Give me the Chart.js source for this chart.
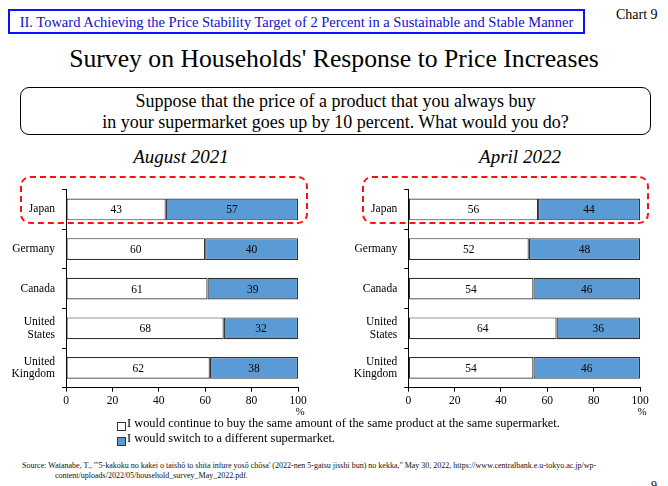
<!DOCTYPE html>
<html><head><meta charset="utf-8">
<script src="https://cdn.jsdelivr.net/npm/chart.js@4"></script>
<style>
html,body{margin:0;padding:0;background:#fff;}
body{width:668px;height:486px;position:relative;overflow:hidden;font-family:"Liberation Serif","Times New Roman",serif;color:#000;}
.abs{position:absolute;white-space:nowrap;}
#hdr{left:8px;top:9px;width:577px;height:25px;border:2px solid #1010ff;box-sizing:border-box;color:#1010cc;font-size:14.5px;line-height:22px;text-align:center;}
#chartno{left:616px;top:7px;font-size:14px;}
#title{left:0;width:668px;top:44px;text-align:center;font-size:25.7px;}
#qbox{left:20px;top:87px;width:631px;height:48px;border:1.5px solid #000;border-radius:9px;box-sizing:border-box;text-align:center;font-size:18px;line-height:21px;padding-top:3px;}
.ptitle{font-style:italic;font-size:19px;top:146px;text-align:center;width:330px;}
.dash{border:2px dashed #ff1010;border-radius:10px;box-sizing:border-box;}
canvas{position:absolute;}
.leg{font-size:12.4px;left:127px;}
.sq{position:absolute;width:7px;height:7px;border:1px solid #333;}
#src{left:22px;top:461px;font-size:8px;line-height:10px;color:#111;}
</style></head><body>
<div id="hdr" class="abs">II. Toward Achieving the Price Stability Target of 2 Percent in a Sustainable and Stable Manner</div>
<div id="chartno" class="abs">Chart 9</div>
<div id="title" class="abs">Survey on Households' Response to Price Increases</div>
<div id="qbox" class="abs">Suppose that the price of a product that you always buy<br>in your supermarket goes up by 10 percent. What would you do?</div>
<div class="abs ptitle" style="left:16px;">August 2021</div>
<div class="abs ptitle" style="left:355px;">April 2022</div>
<canvas id="c1" width="330" height="250" style="left:0;top:170px;"></canvas>
<canvas id="c2" width="330" height="250" style="left:340px;top:170px;"></canvas>
<div class="abs dash" style="left:20px;top:176px;width:288px;height:48px;"></div>
<div class="abs dash" style="left:362px;top:176px;width:287px;height:48px;"></div>
<div class="sq" style="left:117px;top:422px;background:#fff;"></div>
<div class="abs leg" style="top:416px;">I would continue to buy the same amount of the same product at the same supermarket.</div>
<div class="sq" style="left:117px;top:437px;background:#5b9bd5;"></div>
<div class="abs leg" style="top:431px;">I would switch to a different supermarket.</div>
<div id="src" class="abs">Source: Watanabe, T., "'5-kakoku no kakei o taishō to shita infure yosō chōsa' (2022-nen 5-gatsu jisshi bun) no kekka," May 30, 2022, https://www.centralbank.e.u-tokyo.ac.jp/wp-<br><span style="padding-left:33px">content/uploads/2022/05/household_survey_May_2022.pdf.</span></div>
<div class="abs" style="left:651px;top:478px;font-size:12px;">9</div>
<script>
const countries = [["Japan"],["Germany"],["Canada"],["United","States"],["United","Kingdom"]];
const aug2021Continue = [43, 60, 61, 68, 62];
const aug2021Switch   = [57, 40, 39, 32, 38];
const apr2022Continue = [56, 52, 54, 64, 54];
const apr2022Switch   = [44, 48, 46, 36, 46];
const xTicks = [0, 20, 40, 60, 80, 100];
const seriesNames = ["I would continue to buy the same amount of the same product at the same supermarket.","I would switch to a different supermarket."];

const FONT = "'Liberation Serif','Times New Roman',serif";
const valueLabels = {
  id:'valueLabels',
  afterDatasetsDraw(chart){
    const ctx = chart.ctx;
    ctx.save();
    ctx.font = "11.5px " + FONT;
    ctx.fillStyle = "#000";
    ctx.textAlign = "center";
    ctx.textBaseline = "middle";
    chart.data.datasets.forEach((ds, di) => {
      chart.getDatasetMeta(di).data.forEach((el, i) => {
        const cx = (el.base + el.x) / 2;
        ctx.fillText(String(ds.data[i]), cx, el.y + 1);
      });
    });
    ctx.restore();
  }
};
const pctLabel = {
  id:'pctLabel',
  afterDraw(chart){
    const ctx = chart.ctx;
    ctx.save();
    ctx.font = "11px " + FONT;
    ctx.fillStyle = "#000";
    ctx.textAlign = "center";
    ctx.textBaseline = "middle";
    const xs = chart.scales.x;
    ctx.fillText("%", xs.getPixelForValue(100) + 2, 242);
    ctx.restore();
  }
};

function makeChart(id, cont, sw, leftW, rightPad){
  new Chart(document.getElementById(id), {
    type:'bar',
    data:{
      labels: countries,
      datasets:[
        {label: seriesNames[0], data: cont, backgroundColor:'#ffffff', borderColor:'#333333', borderWidth:1.2, borderSkipped:false},
        {label: seriesNames[1], data: sw, backgroundColor:'#5b9bd5', borderColor:'#333333', borderWidth:1.2, borderSkipped:false}
      ]
    },
    options:{
      indexAxis:'y',
      responsive:false,
      devicePixelRatio:1,
      animation:false,
      layout:{padding:{top:12.7, right:rightPad, left:0, bottom:0}},
      datasets:{bar:{categoryPercentage:1, barPercentage:0.55}},
      plugins:{legend:{display:false}, tooltip:{enabled:false}},
      scales:{
        x:{
          stacked:true, min:0, max:100,
          afterBuildTicks(s){ s.ticks = xTicks.map(v => ({value:v})); },
          afterFit(s){ s.height = 32.3; },
          grid:{drawOnChartArea:false, drawTicks:true, tickLength:4, color:'#000'},
          border:{display:true, color:'#000', width:1},
          ticks:{font:{family:FONT, size:11.5}, color:'#000', padding:2, maxRotation:0}
        },
        y:{
          stacked:true,
          afterFit(s){ s.width = leftW; },
          grid:{drawOnChartArea:false, drawTicks:true, tickLength:4, color:'#000', offset:true},
          border:{display:true, color:'#000', width:1},
          ticks:{font:{family:FONT, size:11.5, lineHeight:1.1}, color:'#000', padding:7}
        }
      }
    },
    plugins:[valueLabels, pctLabel]
  });
}
makeChart('c1', aug2021Continue, aug2021Switch, 66, 32);
makeChart('c2', apr2022Continue, apr2022Switch, 68.3, 30);
</script>
</body></html>
